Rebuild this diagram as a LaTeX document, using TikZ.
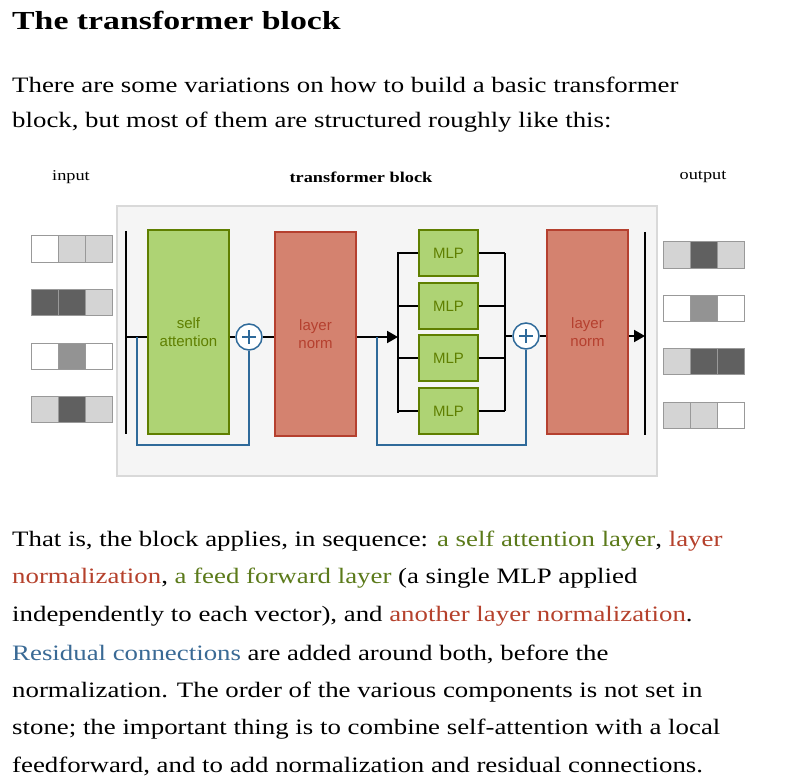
\documentclass[tikz,border=0pt]{standalone}
\usepackage{fontspec}
\setmainfont[FakeStretch=1.22]{Liberation Serif}
\newfontfamily\titlefont[FakeStretch=1.3]{Liberation Serif}
\newfontfamily\diag{Liberation Sans}
\usetikzlibrary{arrows.meta}
\definecolor{gfill}{HTML}{AED374}
\definecolor{gline}{HTML}{5F7F00}
\definecolor{rfill}{HTML}{D4826F}
\definecolor{rline}{HTML}{B5402F}
\definecolor{rtext}{HTML}{B5412C}
\definecolor{btext}{HTML}{3A6A95}
\definecolor{bline}{HTML}{2F6A9A}
\definecolor{gtext}{HTML}{5B7A1A}
\definecolor{cW}{HTML}{FFFFFF}
\definecolor{cL}{HTML}{D4D4D4}
\definecolor{cM}{HTML}{939393}
\definecolor{cD}{HTML}{606060}
\tikzset{
  gbox/.style={draw=gline,fill=gfill,line width=1.2pt,inner sep=0pt,text=gline,font=\diag\fontsize{15}{18}\selectfont,align=center},
  rbox/.style={draw=rline,fill=rfill,line width=1.2pt,inner sep=0pt,text=rline,font=\diag\fontsize{15}{18}\selectfont,align=center},
  plus/.style={circle,draw=bline,fill=white,line width=1.5pt,minimum size=26pt,inner sep=0pt},
  bar/.style={line width=2pt,black},
  flow/.style={line width=2pt,black},
  res/.style={line width=2pt,bline},
  cell/.style={draw=black!40,line width=1pt,minimum width=27pt,minimum height=26pt,inner sep=0pt},
  txt/.style={anchor=west,inner sep=0pt,font=\fontsize{22}{26}\selectfont},
  tip/.style={-{Triangle[length=11pt,width=12pt]}},
}
\begin{document}
\begin{tikzpicture}[x=1pt,y=-1pt]
\useasboundingbox (0,0) rectangle (788,781);
\node[anchor=west,inner sep=0pt,font=\titlefont\bfseries\fontsize{26}{30}\selectfont] (title) at (12,20) {The transformer block};
\node[txt] (p1) at (12,85) {There are some variations on how to build a basic transformer};
\node[txt] (p2) at (12,122) {block, but most of them are structured roughly like this:};
\node[font=\fontsize{15}{18}\selectfont] (lin) at (71,177) {input};
\node[font=\bfseries\fontsize{15}{18}\selectfont] (lblk) at (361,177) {transformer block};
\node[font=\fontsize{15}{18}\selectfont] (lout) at (703,177) {output};
\node[draw=black!15,fill=black!4,line width=1.5pt,minimum width=540pt,minimum height=270pt,inner sep=0pt] (blk) at (387,341) {};
\foreach \row/\y in {{cW,cL,cL}/249,{cD,cD,cL}/302.5,{cW,cM,cW}/356,{cL,cD,cL}/409.5}{
  \foreach \c [count=\i] in \row { \node[cell,fill=\c] (in\i\y) at (31+27*\i-13.5,\y) {}; }
}
\foreach \row/\y in {{cL,cD,cL}/255,{cW,cM,cW}/308.5,{cL,cD,cD}/361.5,{cL,cL,cW}/415}{
  \foreach \c [count=\i] in \row { \node[cell,fill=\c] (out\i\y) at (663+27*\i-13.5,\y) {}; }
}
\coordinate (b1t) at (126,231); \coordinate (b1b) at (126,434);
\draw[bar] (b1t) -- (b1b);
\node[gbox,minimum width=81pt,minimum height=204pt] (sa) at (188.5,332) {self\\attention};
\node[plus] (p1c) at (249,337) {};
\draw[bline,line width=1.5pt] (249,330) -- (249,344) (242,337) -- (256,337);
\node[rbox,minimum width=81pt,minimum height=204pt] (ln1) at (315.5,334) {layer\\norm};
\coordinate (b2t) at (398,252); \coordinate (b2b) at (398,413);
\coordinate (b3t) at (505,253); \coordinate (b3b) at (505,411);
\foreach \y [count=\k] in {253,306,358,411}{
  \node[gbox,minimum width=59pt,minimum height=46pt] (m\k) at (448.5,\y) {MLP};
  \draw[flow] (398,\y) -- (m\k.west);
  \draw[flow] (m\k.east) -- (505,\y);
}
\draw[bar] (b2t) -- (b2b);
\draw[bar] (b3t) -- (b3b);
\node[plus] (p2c) at (526,336) {};
\draw[bline,line width=1.5pt] (526,329) -- (526,343) (519,336) -- (533,336);
\node[rbox,minimum width=81pt,minimum height=204pt] (ln2) at (587.5,332) {layer\\norm};
\coordinate (b4t) at (645,232); \coordinate (b4b) at (645,435);
\draw[bar] (b4t) -- (b4b);
\coordinate (s1) at (126,337);
\draw[flow] (s1) -- (sa.west |- s1);
\draw[flow] (sa.east |- p1c) -- (p1c.west);
\draw[flow] (p1c.east) -- (ln1.west |- p1c);
\coordinate (e2) at (398,337);
\draw[flow,tip] (ln1.east |- e2) -- (e2);
\draw[flow] (505,336) -- (p2c.west);
\draw[flow] (p2c.east) -- (ln2.west |- p2c);
\coordinate (e4) at (645,336);
\draw[flow,tip] (ln2.east |- e4) -- (e4);
\draw[res] (137,337) -- (137,445) -- (249,445) -- (p1c.south);
\draw[res] (377,337) -- (377,445) -- (526,445) -- (p2c.south);
\node[txt] (q1) at (12,541) {That is, the block applies, in sequence: \textcolor{gtext}{a self attention layer}, \textcolor{rtext}{layer}};
\node[txt] (q2) at (12,578) {\textcolor{rtext}{normalization}, \textcolor{gtext}{a feed forward layer} (a single MLP applied};
\node[txt] (q3) at (12,616) {independently to each vector), and \textcolor{rtext}{another layer normalization}.};
\node[txt] (q4) at (12,654) {\textcolor{btext}{Residual connections} are added around both, before the};
\node[txt] (q5) at (12,692) {normalization. The order of the various components is not set in};
\node[txt] (q6) at (12,729) {stone; the important thing is to combine self-attention with a local};
\node[txt] (q7) at (12,766) {feedforward, and to add normalization and residual connections.};
\end{tikzpicture}
\end{document}
